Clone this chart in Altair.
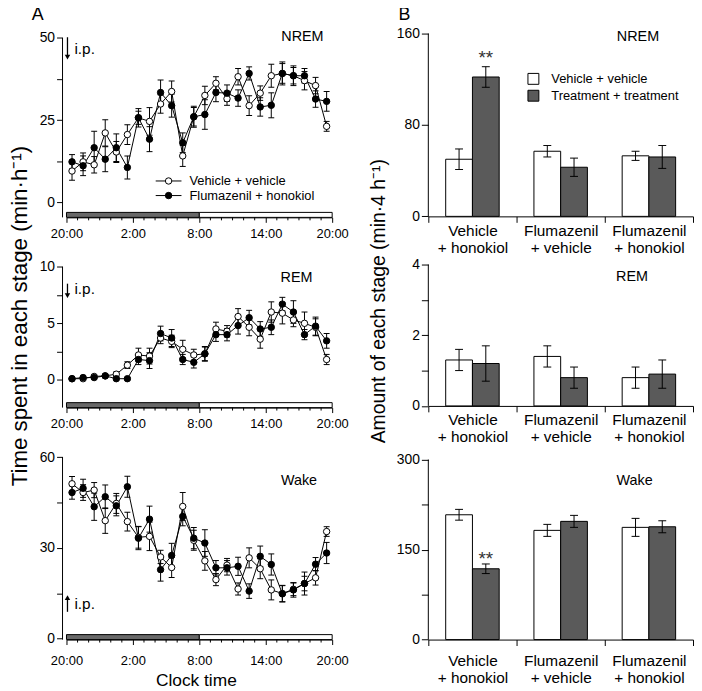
import altair as alt
import pandas as pd

FONT = "Liberation Sans"

# ---------------- data ----------------
hours = [0.5, 1.5, 2.5, 3.5, 4.5, 5.5, 6.5, 7.5, 8.5, 9.5, 10.5, 11.5,
         12.5, 13.5, 14.5, 15.5, 16.5, 17.5, 18.5, 19.5, 20.5, 21.5, 22.5, 23.5]
major_hours = [0, 6, 12, 18, 24]
minor_hours = [1, 2, 3, 4, 5, 7, 8, 9, 10, 11, 13, 14, 15, 16, 17, 19, 20, 21, 22, 23]
clock_labels = ["20:00", "2:00", "8:00", "14:00", "20:00"]
series_names = ["Vehicle + vehicle", "Flumazenil + honokiol"]

nrem_veh = [9.5, 12.3, 11.4, 21.1, 15.3, 20.6, 25.7, 24.6, 29.9, 33.7, 14.1, 26.0,
            32.5, 36.2, 31.5, 38.2, 29.4, 33.2, 38.5, 39.2, 38.5, 37.0, 35.5, 23.1]
nrem_veh_se = [2.8, 2.7, 2.5, 4.0, 3.2, 3.0, 2.0, 4.2, 2.8, 3.2, 3.2, 2.8,
               2.8, 2.0, 2.0, 2.5, 3.0, 2.2, 3.5, 3.0, 3.0, 2.8, 2.5, 1.5]
nrem_fh = [12.3, 11.1, 16.6, 13.1, 16.6, 10.6, 25.7, 19.2, 33.4, 29.4, 18.1, 26.0,
           26.7, 33.4, 33.2, 31.7, 39.2, 29.0, 29.5, 39.2, 38.5, 38.5, 31.4, 30.7]
nrem_fh_se = [2.2, 3.0, 5.0, 3.8, 4.2, 3.5, 2.8, 3.8, 3.8, 3.5, 3.0, 3.2,
              4.5, 2.8, 2.5, 2.5, 2.0, 2.8, 3.8, 3.5, 2.5, 2.2, 2.5, 3.0]

rem_veh = [0.1, 0.1, 0.3, 0.35, 0.5, 1.3, 2.2, 2.1, 3.7, 3.4, 2.7, 2.2,
           2.3, 4.5, 4.3, 5.6, 4.65, 3.6, 6.0, 5.9, 5.3, 5.0, 4.65, 1.8]
rem_veh_se = [0.1, 0.1, 0.1, 0.1, 0.2, 0.3, 0.6, 0.7, 0.5, 0.55, 0.8, 0.5,
              0.65, 0.6, 0.5, 0.7, 0.75, 0.8, 0.9, 0.95, 0.6, 1.0, 0.75, 0.45]
rem_fh = [0.1, 0.2, 0.2, 0.35, 0.1, 0.1, 1.8, 1.7, 4.1, 3.7, 1.8, 1.55,
          2.3, 4.0, 4.0, 4.8, 5.5, 4.5, 4.65, 6.7, 6.0, 4.0, 4.75, 3.45]
rem_fh_se = [0.1, 0.1, 0.1, 0.1, 0.1, 0.1, 0.45, 0.7, 0.65, 0.75, 0.45, 0.5,
             0.6, 0.6, 0.55, 0.75, 0.65, 0.65, 0.65, 0.6, 1.0, 0.45, 0.8, 0.65]

wake_veh = [51.2, 48.3, 49.1, 39.0, 44.7, 38.7, 33.5, 33.8, 27.0, 23.5, 43.7, 32.5,
            25.7, 19.5, 24.3, 16.4, 26.7, 23.1, 16.1, 14.9, 16.3, 18.2, 20.1, 35.4]
wake_veh_se = [2.4, 2.6, 2.5, 4.2, 3.3, 3.1, 3.6, 4.7, 2.2, 3.3, 4.6, 3.3,
               3.1, 2.0, 2.2, 2.0, 3.3, 3.3, 3.3, 2.7, 2.1, 2.4, 2.4, 1.6]
wake_fh = [48.3, 49.7, 43.6, 46.9, 43.9, 50.2, 33.2, 39.5, 22.8, 27.5, 40.4, 33.2,
           31.6, 23.4, 23.4, 23.9, 15.7, 27.2, 24.5, 14.8, 16.1, 18.2, 24.6, 28.3]
wake_fh_se = [2.2, 3.0, 4.5, 3.9, 3.3, 3.5, 3.8, 4.3, 3.8, 4.0, 3.1, 3.5,
              4.4, 2.4, 2.4, 3.0, 2.4, 3.4, 3.5, 2.7, 2.4, 3.8, 2.2, 3.5]

bar_cats = ["Vehicle|+ honokiol", "Flumazenil|+ vehicle", "Flumazenil|+ honokiol"]
bar_groups = ["Vehicle + vehicle", "Treatment + treatment"]

nrem_ctrl = [50, 57, 53]
nrem_ctrl_se = [9, 5, 4]
nrem_trt = [122, 43, 52]
nrem_trt_se = [9, 8, 10]
rem_ctrl = [1.3, 1.4, 0.8]
rem_ctrl_se = [0.3, 0.3, 0.3]
rem_trt = [1.2, 0.8, 0.9]
rem_trt_se = [0.5, 0.3, 0.4]
wake_ctrl = [208, 182, 187]
wake_ctrl_se = [9, 10, 15]
wake_trt = [118, 197, 188]
wake_trt_se = [8, 10, 10]
star_level = 143

phase_start = [0, 12]
phase_end = [12, 24]
phase_fill = ["#686868", "white"]
DARK = "#5a5a5a"

# ---------------- helpers ----------------
one = pd.DataFrame({"k": [0]})
clock_expr = " : ".join(f"datum.value == {h} ? '{l}'" for h, l in zip(major_hours, clock_labels)) + " : ''"


def txt(text, x, y, size=14, align="center", angle=None, color="black"):
    kw = dict(text=text, fontSize=size, align=align, baseline="middle", font=FONT, color=color)
    if angle is not None:
        kw["angle"] = angle
    return alt.Chart(one).mark_text(**kw).encode(x=alt.value(x), y=alt.value(y))


def arrow(x, y_tail, y_tip):
    down = y_tip > y_tail
    d = 1 if down else -1
    shaft = alt.Chart(one).mark_rule(color="black", strokeWidth=1.3).encode(
        x=alt.value(x), y=alt.value(y_tail), y2=alt.value(y_tip - 4 * d))
    head = alt.Chart(one).mark_point(shape="triangle-down" if down else "triangle-up", filled=True,
                                     size=30, color="black", opacity=1).encode(
        x=alt.value(x), y=alt.value(y_tip - 3 * d))
    return [shaft, head]


def line_df(veh, veh_se, fh, fh_se):
    rows = []
    for name, vals, ses in ((series_names[0], veh, veh_se), (series_names[1], fh, fh_se)):
        for h, v, s in zip(hours, vals, ses):
            rows.append({"hour": h, "value": v, "lo": v - s, "hi": v + s, "series": name})
    return pd.DataFrame(rows)


def left_panel(df, dom, yticks, step, axis_hi, h, extras, label_pad=5):
    xs = alt.Scale(domain=[0, 24], nice=False, zero=False)
    ys = alt.Scale(domain=dom, nice=False, zero=False)
    xax = alt.Axis(values=major_hours, labelExpr=clock_expr, title=None, tickSize=5, labelFlush=False,
                   labelPadding=label_pad, labelFontSize=13, grid=False)
    yax = alt.Axis(values=yticks, labelExpr=f"datum.value % {step} === 0 ? datum.label : ''",
                   title=None, offset=4, tickSize=6, labelPadding=2, labelFontSize=14,
                   grid=False, domain=False)
    X = alt.X("hour:Q", scale=xs, axis=xax)

    phase_layers = []
    for x0, x1, col in zip(phase_start, phase_end, phase_fill):
        pdf = pd.DataFrame({"x0": [x0], "x1": [x1]})
        phase_layers.append(alt.Chart(pdf).mark_rect(stroke="black", strokeWidth=1, fill=col).encode(
            x=alt.X("x0:Q", scale=xs, axis=xax), x2="x1:Q",
            y=alt.value(h - 5), y2=alt.value(h)))
    minor = alt.Chart(pd.DataFrame({"hour": minor_hours})).mark_rule(color="black").encode(
        x=X, y=alt.value(h), y2=alt.value(h + 3))
    yline = alt.Chart(pd.DataFrame({"a": [axis_hi]})).mark_rule(color="black").encode(
        x=alt.value(-4), y=alt.Y("a:Q", scale=ys, axis=yax), y2=alt.value(h))

    base = alt.Chart(df)
    err = base.mark_rule(color="black", strokeWidth=1).encode(
        x=X, y=alt.Y("lo:Q", scale=ys, axis=yax), y2="hi:Q")
    cap_hi = base.mark_tick(orient="horizontal", size=6, thickness=1, color="black", opacity=1).encode(
        x=X, y=alt.Y("hi:Q", scale=ys, axis=yax))
    cap_lo = base.mark_tick(orient="horizontal", size=6, thickness=1, color="black", opacity=1).encode(
        x=X, y=alt.Y("lo:Q", scale=ys, axis=yax))
    line = base.mark_line(color="black", strokeWidth=1).encode(
        x=X, y=alt.Y("value:Q", scale=ys, axis=yax), detail="series:N")
    pts = base.mark_point(filled=True, size=42, stroke="black", strokeWidth=1, opacity=1).encode(
        x=X, y=alt.Y("value:Q", scale=ys, axis=yax),
        fill=alt.Fill("series:N", scale=alt.Scale(domain=series_names, range=["white", "black"]), legend=None))
    layers = phase_layers + [minor, yline, err, cap_hi, cap_lo, line, pts] + extras
    return alt.layer(*layers).properties(width=268, height=h)


def right_panel(ctrl, ctrl_se, trt, trt_se, dom_top, axis_hi, yvals, step, h, star_cats, extras, label_pad=1):
    rows = []
    for grp, vals, ses in ((bar_groups[0], ctrl, ctrl_se), (bar_groups[1], trt, trt_se)):
        for c, v, s in zip(bar_cats, vals, ses):
            rows.append({"cat": c, "grp": grp, "value": v, "lo": v - s, "hi": v + s})
    df = pd.DataFrame(rows)
    xs = alt.Scale(domain=bar_cats, paddingInner=0, paddingOuter=0)
    xax = alt.Axis(tickBand="extent", labelExpr="split(datum.label, '|')", title=None, labelAngle=0,
                   tickSize=6, labelPadding=label_pad, labelFontSize=15.5, labelLineHeight=17, grid=False)
    X = alt.X("cat:N", scale=xs, axis=xax)
    XO = alt.XOffset("grp:N", scale=alt.Scale(domain=bar_groups, paddingInner=0, paddingOuter=0.65))
    ys = alt.Scale(domain=[0, dom_top], nice=False, zero=True)
    yax = alt.Axis(values=yvals, labelExpr=f"datum.value % {step} === 0 ? datum.label : ''",
                   title=None, tickSize=7, labelPadding=2, labelFontSize=14, grid=False, domain=False)
    base = alt.Chart(df)
    yline = alt.Chart(pd.DataFrame({"a": [axis_hi]})).mark_rule(color="black").encode(
        x=alt.value(0), y=alt.Y("a:Q", scale=ys, axis=yax), y2=alt.value(h))
    bars = base.mark_bar(stroke="black", strokeWidth=1).encode(
        x=X, xOffset=XO, y=alt.Y("value:Q", scale=ys, axis=yax),
        fill=alt.Fill("grp:N", scale=alt.Scale(domain=bar_groups, range=["white", DARK]), legend=None))
    err = base.mark_rule(color="black", strokeWidth=1).encode(
        x=X, xOffset=XO, y=alt.Y("lo:Q", scale=ys, axis=yax), y2="hi:Q")
    cap_hi = base.mark_tick(orient="horizontal", size=8, thickness=1, color="black", opacity=1).encode(
        x=X, xOffset=XO, y=alt.Y("hi:Q", scale=ys, axis=yax))
    cap_lo = base.mark_tick(orient="horizontal", size=8, thickness=1, color="black", opacity=1).encode(
        x=X, xOffset=XO, y=alt.Y("lo:Q", scale=ys, axis=yax))
    layers = [yline, bars, err, cap_hi, cap_lo]
    if star_cats:
        sdf = pd.DataFrame({"cat": star_cats, "grp": [bar_groups[1]] * len(star_cats),
                            "sy": [star_level] * len(star_cats)})
        stars = alt.Chart(sdf).mark_text(text="**", fontSize=19, font=FONT, color="#333333", dy=5).encode(
            x=X, xOffset=XO, y=alt.Y("sy:Q", scale=ys, axis=yax))
        layers.append(stars)
    return alt.layer(*(layers + extras)).properties(width=267, height=h)


# ---------------- left column ----------------
legend_left = [
    alt.Chart(one).mark_rule(color="black").encode(x=alt.value(90), x2=alt.value(116), y=alt.value(148.7)),
    alt.Chart(one).mark_point(filled=True, size=42, fill="white", stroke="black", strokeWidth=1, opacity=1).encode(
        x=alt.value(103), y=alt.value(148.7)),
    txt(series_names[0], 124, 148.7, 13, "left"),
    alt.Chart(one).mark_rule(color="black").encode(x=alt.value(90), x2=alt.value(116), y=alt.value(163.4)),
    alt.Chart(one).mark_point(filled=True, size=42, fill="black", stroke="black", strokeWidth=1, opacity=1).encode(
        x=alt.value(103), y=alt.value(163.4)),
    txt(series_names[1], 124, 163.4, 13, "left"),
]
anchor = [alt.Chart(one).mark_rule(strokeWidth=0.5, opacity=0).encode(
    x=alt.value(-59), x2=alt.value(-58.5), y=alt.value(-25.3))]

L1 = left_panel(line_df(nrem_veh, nrem_veh_se, nrem_fh, nrem_fh_se), [-4.6, 51.33],
                [0, 12.5, 25, 37.5, 50], 25, 50, 185.4,
                anchor + [txt("NREM", 238, 3.7, 14.5), txt("A", -29, -18.3, 18)]
                + arrow(1, 3.7, 26.7) + [txt("i.p.", 8, 15.5, 15.5, "left")] + legend_left)

L2 = left_panel(line_df(rem_veh, rem_veh_se, rem_fh, rem_fh_se), [-2.456, 10.2],
                [0, 2.5, 5, 7.5, 10], 5, 10, 144.3,
                [txt("REM", 232, 13.3, 14.5)] + arrow(1, 19.3, 34.3) + [txt("i.p.", 8, 24.3, 15.5, "left"),
                 txt("Time spent in each stage (min·h⁻¹)", -46.5, 52, 22.5, angle=270)])

L3 = left_panel(line_df(wake_veh, wake_veh_se, wake_fh, wake_fh_se), [-0.33, 60.75],
                [0, 15, 30, 45, 60], 30, 60, 186.3,
                [txt("Wake", 234.5, 26, 14.5)] + arrow(1, 158.3, 141) + [txt("i.p.", 8, 150, 15.5, "left"),
                 txt("Clock time", 131, 228.5, 17.5)], label_pad=10)

# ---------------- right column ----------------
legend_right = [
    alt.Chart(one).mark_square(size=121, fill="white", stroke="black", strokeWidth=1, opacity=1).encode(
        x=alt.value(106), y=alt.value(45.7)),
    txt(bar_groups[0], 124, 45.7, 13, "left"),
    alt.Chart(one).mark_square(size=121, fill=DARK, stroke="black", strokeWidth=1, opacity=1).encode(
        x=alt.value(106), y=alt.value(62.7)),
    txt(bar_groups[1], 124, 62.7, 13, "left"),
]

R1 = right_panel(nrem_ctrl, nrem_ctrl_se, nrem_trt, nrem_trt_se, 160, 160, [0, 80, 160], 80, 184.4,
                 [bar_cats[0]], [txt("NREM", 211.5, 3.7, 14.5), txt("B", -24, -18.3, 18)] + legend_right)
R2 = right_panel(rem_ctrl, rem_ctrl_se, rem_trt, rem_trt_se, 4, 4, [0, 1, 2, 3, 4], 2, 142.6,
                 [], [txt("REM", 205.5, 12.3, 14.5),
                      txt("Amount of each stage (min·4 h⁻¹)", -50, 37, 19.5, angle=270)])
R3 = right_panel(wake_ctrl, wake_ctrl_se, wake_trt, wake_trt_se, 307.8, 300, [0, 75, 150, 225, 300], 150, 186.3,
                 [bar_cats[0]], [txt("Wake", 208, 26, 14.5)], label_pad=8)

chart = (alt.concat(L1, R1, L2, R2, L3, R3, columns=2, spacing={"row": 47, "column": 97},
                    bounds="flush", align="each")
         .resolve_scale(fill="independent")
         .properties(padding={"top": -5.2, "left": 0, "right": 0, "bottom": 0})
         .configure(font=FONT)
         .configure_view(stroke=None)
         .configure_axis(labelFont=FONT, labelColor="black", tickColor="black", domainColor="black",
                         tickWidth=1, domainWidth=1))

chart.save("out.html", embed_options={"renderer": "svg", "actions": False})
